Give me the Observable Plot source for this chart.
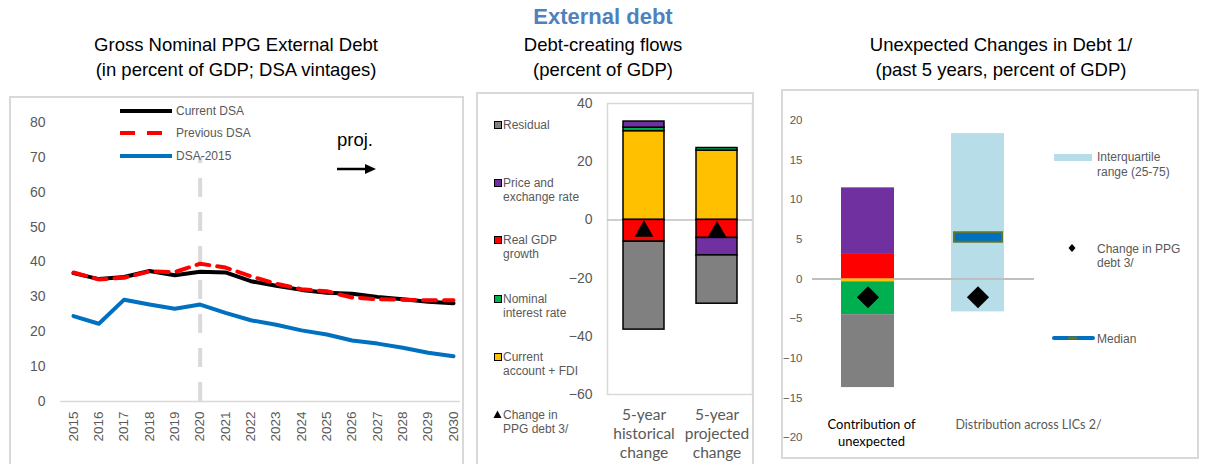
<!DOCTYPE html>
<html><head><meta charset="utf-8">
<script src="https://cdn.jsdelivr.net/npm/d3@7"></script>
<script src="https://cdn.jsdelivr.net/npm/@observablehq/plot@0.6"></script>
<style>
body{margin:0;background:#fff;font-family:"Liberation Sans",Arial,sans-serif;}
#root{position:relative;width:1217px;height:464px;overflow:hidden;background:#fff;}
.abs{position:absolute;white-space:pre;}
.box{position:absolute;border:2px solid #d9d9d9;box-sizing:border-box;}
svg.plot{position:absolute;overflow:visible;}
</style></head><body><div id="root"></div>
<script>
// ---------- DATA ----------
// Left panel: Gross Nominal PPG External Debt (percent of GDP)
const years = [2015,2016,2017,2018,2019,2020,2021,2022,2023,2024,2025,2026,2027,2028,2029,2030];
const currentDSA  = [36.8,35.1,35.7,37.4,36.2,37.2,37.0,34.5,33.2,32.0,31.2,30.9,30.0,29.3,28.6,28.2];
const previousDSA = [37.0,35.0,35.5,37.3,37.1,39.5,38.4,35.9,33.8,32.2,31.6,29.8,29.3,29.2,29.0,29.0];
const dsa2015     = [24.5,22.3,29.2,27.8,26.6,27.8,25.4,23.3,22.0,20.4,19.2,17.5,16.6,15.4,14.0,13.0];
const projYear = 2020;
const leftTicks = [0,10,20,30,40,50,60,70,80];

// Middle panel: Debt-creating flows (percent of GDP)
const flowCats = ["5-year\nhistorical\nchange", "5-year\nprojected\nchange"];
const flowComponents = ["Current account + FDI","Nominal interest rate","Real GDP growth","Price and exchange rate","Residual"];
const componentColors = ["#ffc000","#00b050","#ff0000","#7030a0","#808080"];
const histFlows = [30.5, 1.2, -7.5, 2.1, -30.2];
const projFlows = [23.8, 0.9, -6.2, -6.0, -16.6];
const flowPPGChange = [-3.9, -4.1];
const midTicks = [40,20,0,-20,-40,-60];

// Right panel: Unexpected changes in debt (past 5 years, percent of GDP)
const unexpCats = ["Contribution of\nunexpected", "Distribution across LICs 2/"];
const unexpComponents = ["Real GDP growth","Price and exchange rate","Current account + FDI","Nominal interest rate","Residual"];
const unexpValues = [3.1, 8.4, -0.35, -4.15, -9.2];
const licIQR = [-4.15, 18.35];
const licMedian = 5.3;
const unexpPPGChange = [-2.3, -2.3];
const rightTicks = [20,15,10,5,0,-5,-10,-15,-20];

// ---------- HELPERS ----------
const root = document.getElementById("root");
function box(x,y,w,h){const d=document.createElement("div");d.className="box";Object.assign(d.style,{left:x+"px",top:y+"px",width:w+"px",height:h+"px"});root.appendChild(d);return d;}
function text(str,x,y,style={},anchor="start"){
  const d=document.createElement("div");d.className="abs";d.textContent=str;
  Object.assign(d.style,{left:x+"px",top:y+"px",lineHeight:"1",transform:anchor==="middle"?"translate(-50%,-50%)":anchor==="end"?"translate(-100%,-50%)":"translate(0,-50%)"},style);
  root.appendChild(d);return d;}
function place(svg,x,y){svg.classList.add("plot");svg.style.left=x+"px";svg.style.top=y+"px";root.appendChild(svg);}
function svgEl(x,y,w,h,inner){const d=document.createElement("div");d.className="abs";Object.assign(d.style,{left:x+"px",top:y+"px",width:w+"px",height:h+"px"});d.innerHTML=`<svg width="${w}" height="${h}" style="display:block;overflow:visible">${inner}</svg>`;root.appendChild(d);}

// ---------- TITLES ----------
text("External debt",603,17,{fontWeight:"bold",fontSize:"22px",color:"#4f81bd"},"middle");
const tStyle={fontSize:"18.5px",color:"#000"};
text("Gross Nominal PPG External Debt",236,45,tStyle,"middle");
text("(in percent of GDP; DSA vintages)",236,70,tStyle,"middle");
text("Debt-creating flows",603,45,tStyle,"middle");
text("(percent of GDP)",603,70,tStyle,"middle");
text("Unexpected Changes in Debt 1/",1001,45,tStyle,"middle");
text("(past 5 years, percent of GDP)",1001,70,tStyle,"middle");

// ---------- PANEL BOXES ----------
box(9,96,455,370);
box(476,92,278,374);
box(781,89,418,370);

// ---------- LEFT PLOT ----------
const L = Plot.plot({
  width:452, height:366, marginLeft:50, marginRight:2, marginTop:0, marginBottom:62,
  style:{fontFamily:"Liberation Sans, Arial, sans-serif", fontSize:"14px", color:"#595959", background:"transparent"},
  x:{type:"linear", domain:[2015,2030], range:[63,443]},
  y:{domain:[0,80], range:[304,25]},
  marks:[
    Plot.ruleX([projYear],{y1:0,y2:70,stroke:"#d9d9d9",strokeWidth:4,strokeDasharray:"19,15"}),
    Plot.ruleY([0],{stroke:"#d9d9d9",strokeWidth:1.5}),
    Plot.line(years,{x:d=>d,y:(d,i)=>dsa2015[i],stroke:"#0070c0",strokeWidth:4}),
    Plot.line(years,{x:d=>d,y:(d,i)=>currentDSA[i],stroke:"#000",strokeWidth:4}),
    Plot.line(years,{x:d=>d,y:(d,i)=>previousDSA[i],stroke:"#ff0000",strokeWidth:4,strokeDasharray:"13,8"}),
    Plot.axisY({ticks:leftTicks,tickSize:0,tickPadding:15,fontSize:14,label:null}),
    Plot.axisX({ticks:years,tickFormat:"d",tickSize:0,tickPadding:10,tickRotate:-90,fontSize:13.5,label:null})
  ]
});
place(L,10,97);

// left legend
svgEl(118,100,60,62,
  `<line x1="2" x2="54" y1="11" y2="11" stroke="#000" stroke-width="4"/>
   <line x1="2" x2="54" y1="33" y2="33" stroke="#ff0000" stroke-width="4" stroke-dasharray="15,12"/>
   <line x1="2" x2="54" y1="56" y2="56" stroke="#0070c0" stroke-width="4"/>`);
const lg={fontSize:"12px",color:"#595959"};
text("Current DSA",176,111,lg);
text("Previous DSA",176,133,lg);
text("DSA-2015",176,156,lg);
text("proj.",337,140,{fontSize:"18.5px",color:"#000"});
svgEl(335,160,45,20,`<line x1="2" x2="32" y1="9" y2="9" stroke="#000" stroke-width="2.5"/><path d="M30,4 L41,9 L30,14 Z" fill="#000"/>`);

// ---------- MIDDLE PLOT ----------
const flowRows = [];
flowComponents.forEach((c,i)=>{flowRows.push({cat:flowCats[0],comp:c,v:histFlows[i]});flowRows.push({cat:flowCats[1],comp:c,v:projFlows[i]});});
const M = Plot.plot({
  width:277, height:368, marginLeft:130, marginRight:2, marginTop:9, marginBottom:68,
  style:{fontFamily:"Liberation Sans, Arial, sans-serif", fontSize:"14px", color:"#595959", background:"transparent"},
  x:{type:"band", domain:flowCats, range:[130,275], paddingInner:0.44, paddingOuter:0.213},
  y:{domain:[-60,40], range:[300,9]},
  color:{domain:flowComponents, range:componentColors},
  marks:[
    Plot.frame({stroke:"#d9d9d9",strokeWidth:1.5}),
    Plot.ruleY([0],{stroke:"#bfbfbf",strokeWidth:1.5}),
    Plot.barY(flowRows,{x:"cat",y:"v",fill:"comp",stroke:"#000",strokeWidth:1.5}),
    Plot.dot(flowCats,{x:d=>d,y:(d,i)=>flowPPGChange[i],symbol:"triangle",r:7,fill:"#000"}),
    Plot.axisY({ticks:midTicks,tickSize:0,tickPadding:15,fontSize:14,label:null}),
    Plot.axisX({tickSize:0,tickPadding:12,fontSize:15.5,fontFamily:"Lato, sans-serif",lineHeight:1.22,label:null})
  ]
});
place(M,477,94);

// middle legend
const mleg = [
  {c:"#808080",lines:["Residual"],y:125},
  {c:"#7030a0",lines:["Price and","exchange rate"],y:183},
  {c:"#ff0000",lines:["Real GDP","growth"],y:240},
  {c:"#00b050",lines:["Nominal","interest rate"],y:299},
  {c:"#ffc000",lines:["Current","account + FDI"],y:357}
];
mleg.forEach(m=>{
  const s=document.createElement("div");s.className="abs";
  Object.assign(s.style,{left:"494px",top:(m.y-4)+"px",width:"6px",height:"6px",background:m.c,border:"1px solid #000"});
  root.appendChild(s);
  m.lines.forEach((l,j)=>text(l,503,m.y+j*14,lg));
});
svgEl(493,410,10,10,`<path d="M4.5,0.5 L8.5,8 L0.5,8 Z" fill="#000"/>`);
text("Change in",503,415,lg);
text("PPG debt 3/",503,429,lg);

// ---------- RIGHT PLOT ----------
const unexpRows = unexpComponents.map((c,i)=>({cat:unexpCats[0],comp:c,v:unexpValues[i]}));
const R = Plot.plot({
  width:416, height:368, marginLeft:30, marginRight:164, marginTop:30, marginBottom:21,
  style:{fontFamily:"Liberation Sans, Arial, sans-serif", fontSize:"11.5px", color:"#595959", background:"transparent"},
  x:{type:"band", domain:unexpCats, range:[30,252], paddingInner:0.518, paddingOuter:0.263, axis:null},
  y:{domain:[-20,20], range:[347,30]},
  color:{domain:flowComponents, range:componentColors},
  marks:[
    Plot.barY([unexpCats[1]],{x:d=>d,y1:licIQR[0],y2:licIQR[1],fill:"#b7dee8"}),
    Plot.ruleY([0],{stroke:"#bfbfbf",strokeWidth:2}),
    Plot.barY(unexpRows,{x:"cat",y:"v",fill:"comp"}),
    Plot.tickY([unexpCats[1]],{x:d=>d,y:()=>licMedian,stroke:"#5f7530",strokeWidth:11.5,insetLeft:2,insetRight:1}),
    Plot.tickY([unexpCats[1]],{x:d=>d,y:()=>licMedian,stroke:"#0070c0",strokeWidth:7.5,insetLeft:4,insetRight:3}),
    Plot.dot(unexpCats,{x:d=>d,y:(d,i)=>unexpPPGChange[i],symbol:"diamond2",r:10,fill:"#000"}),
    Plot.axisY({ticks:rightTicks,tickSize:0,tickPadding:10,fontSize:11.5,label:null}),
    Plot.text([unexpCats[0]],{x:d=>d,text:d=>d,frameAnchor:"bottom",dy:-5.5,dx:3.5,lineAnchor:"middle",lineHeight:1.3,fontSize:13,fontFamily:"Lato, sans-serif",fill:"#000"}),
    Plot.text([unexpCats[1]],{x:d=>d,text:d=>d,frameAnchor:"bottom",dy:-13,dx:50.5,lineAnchor:"middle",fontSize:12.5,fontFamily:"Lato, sans-serif",fill:"#595959"})
  ]
});
place(R,782,90);

// right legend
svgEl(1053,152,42,12,`<rect x="1" y="2" width="38" height="7" fill="#b7dee8"/>`);
text("Interquartile",1097,157,lg);
text("range (25-75)",1097,172,lg);
svgEl(1066,242,12,12,`<path d="M6,2 L9.5,6 L6,10 L2.5,6 Z" fill="#000"/>`);
text("Change in PPG",1097,249,lg);
text("debt 3/",1097,263,lg);
svgEl(1051,332,46,12,`<line x1="3" x2="42" y1="6" y2="6" stroke="#0070c0" stroke-width="4" stroke-linecap="round"/><line x1="17" x2="26" y1="6" y2="6" stroke="#5f7530" stroke-width="3"/>`);
text("Median",1097,339,lg);
</script></body></html>
